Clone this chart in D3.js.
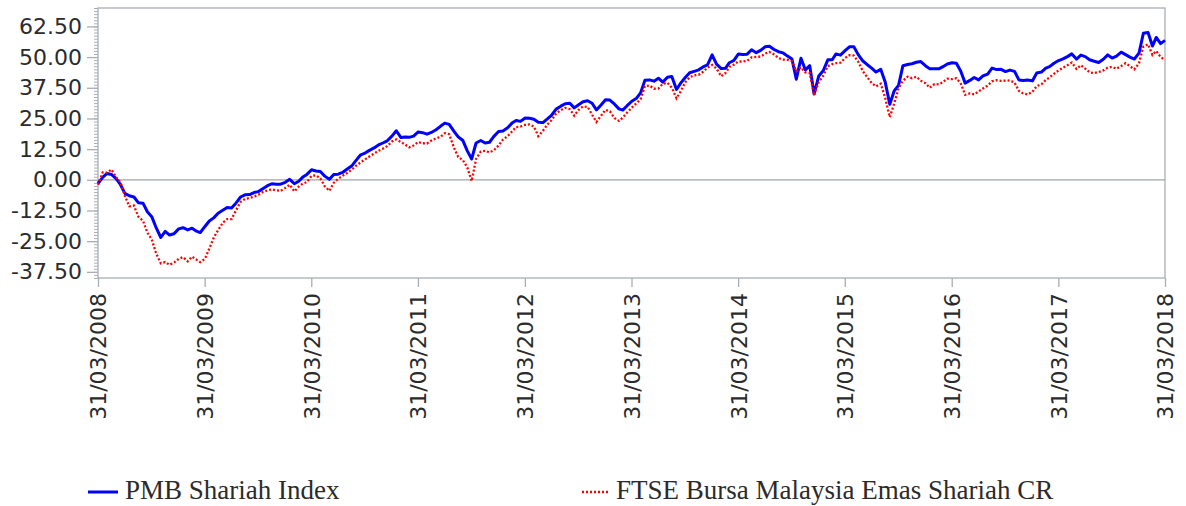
<!DOCTYPE html>
<html>
<head>
<meta charset="utf-8">
<script src="https://cdn.jsdelivr.net/npm/d3@7"></script>
<style>
  html, body { margin: 0; padding: 0; background: #ffffff; }
  svg { display: block; }
</style>
</head>
<body>
<svg id="chart" width="1186" height="506"></svg>
<script>
// ---- data (half-monthly readings) ----
const dates = [
"2008-03-31","2008-04-16","2008-05-01","2008-05-16","2008-06-01","2008-06-16","2008-07-01","2008-07-16","2008-08-01","2008-08-16","2008-09-01","2008-09-16","2008-10-01","2008-10-16","2008-11-01","2008-11-16","2008-12-01","2008-12-16",
"2009-01-01","2009-01-16","2009-02-01","2009-02-16","2009-03-01","2009-03-16","2009-04-01","2009-04-16","2009-05-01","2009-05-16","2009-06-01","2009-06-16","2009-07-01","2009-07-16","2009-08-01","2009-08-16","2009-09-01","2009-09-16","2009-10-01","2009-10-16","2009-11-01","2009-11-16","2009-12-01","2009-12-16",
"2010-01-01","2010-01-16","2010-02-01","2010-02-16","2010-03-01","2010-03-16","2010-04-01","2010-04-16","2010-05-01","2010-05-16","2010-06-01","2010-06-16","2010-07-01","2010-07-16","2010-08-01","2010-08-16","2010-09-01","2010-09-16","2010-10-01","2010-10-16","2010-11-01","2010-11-16","2010-12-01","2010-12-16",
"2011-01-01","2011-01-16","2011-02-01","2011-02-16","2011-03-01","2011-03-16","2011-04-01","2011-04-16","2011-05-01","2011-05-16","2011-06-01","2011-06-16","2011-07-01","2011-07-16","2011-08-01","2011-08-16","2011-09-01","2011-09-16","2011-10-01","2011-10-16","2011-11-01","2011-11-16","2011-12-01","2011-12-16",
"2012-01-01","2012-01-16","2012-02-01","2012-02-16","2012-03-01","2012-03-16","2012-04-01","2012-04-16","2012-05-01","2012-05-16","2012-06-01","2012-06-16","2012-07-01","2012-07-16","2012-08-01","2012-08-16","2012-09-01","2012-09-16","2012-10-01","2012-10-16","2012-11-01","2012-11-16","2012-12-01","2012-12-16",
"2013-01-01","2013-01-16","2013-02-01","2013-02-16","2013-03-01","2013-03-16","2013-04-01","2013-04-16","2013-05-01","2013-05-16","2013-06-01","2013-06-16","2013-07-01","2013-07-16","2013-08-01","2013-08-16","2013-09-01","2013-09-16","2013-10-01","2013-10-16","2013-11-01","2013-11-16","2013-12-01","2013-12-16",
"2014-01-01","2014-01-16","2014-02-01","2014-02-16","2014-03-01","2014-03-16","2014-04-01","2014-04-16","2014-05-01","2014-05-16","2014-06-01","2014-06-16","2014-07-01","2014-07-16","2014-08-01","2014-08-16","2014-09-01","2014-09-16","2014-10-01","2014-10-16","2014-11-01","2014-11-16","2014-12-01","2014-12-16",
"2015-01-01","2015-01-16","2015-02-01","2015-02-16","2015-03-01","2015-03-16","2015-04-01","2015-04-16","2015-05-01","2015-05-16","2015-06-01","2015-06-16","2015-07-01","2015-07-16","2015-08-01","2015-08-16","2015-09-01","2015-09-16","2015-10-01","2015-10-16","2015-11-01","2015-11-16","2015-12-01","2015-12-16",
"2016-01-01","2016-01-16","2016-02-01","2016-02-16","2016-03-01","2016-03-16","2016-04-01","2016-04-16","2016-05-01","2016-05-16","2016-06-01","2016-06-16","2016-07-01","2016-07-16","2016-08-01","2016-08-16","2016-09-01","2016-09-16","2016-10-01","2016-10-16","2016-11-01","2016-11-16","2016-12-01","2016-12-16",
"2017-01-01","2017-01-16","2017-02-01","2017-02-16","2017-03-01","2017-03-16","2017-04-01","2017-04-16","2017-05-01","2017-05-16","2017-06-01","2017-06-16","2017-07-01","2017-07-16","2017-08-01","2017-08-16","2017-09-01","2017-09-16","2017-10-01","2017-10-16","2017-11-01","2017-11-16","2017-12-01","2017-12-16",
"2018-01-01","2018-01-16","2018-02-01","2018-02-16","2018-03-01","2018-03-16","2018-03-31"
];

const pmbShariah = [
-1.5,1.0,2.6,2.2,0.5,-2.0,-5.5,-6.5,-7.0,-9.3,-9.5,-13.0,-15.0,-19.5,-23.5,-21.0,-22.5,-22.0,
-20.0,-19.5,-20.4,-19.7,-20.8,-21.5,-19.0,-16.8,-15.5,-13.6,-12.4,-11.3,-11.5,-9.5,-7.0,-6.1,-6.0,-5.2,-4.8,-3.6,-2.4,-1.6,-1.8,-1.8,
-1.0,0.2,-1.6,-0.6,1.0,2.2,4.1,3.6,3.4,1.5,0.2,2.2,2.3,3.0,4.4,5.6,8.0,10.2,10.9,12.0,13.0,14.2,15.0,15.9,
17.8,20.0,17.2,17.4,17.3,17.8,19.5,19.2,18.6,19.3,20.4,21.8,23.1,22.6,19.8,17.5,16.0,11.8,8.5,15.0,16.0,15.0,15.3,17.7,
19.7,19.9,21.2,23.1,24.2,23.8,25.2,25.1,24.7,23.5,23.3,24.8,26.4,28.8,30.0,31.0,31.2,29.3,30.6,31.8,32.2,31.2,28.5,30.4,
32.6,32.5,30.8,28.9,28.4,30.2,32.0,33.1,35.4,40.6,40.7,40.2,41.4,39.8,41.8,42.1,36.8,39.5,41.7,43.6,44.2,44.8,46.0,46.8,
50.9,47.1,45.3,45.5,47.7,48.6,51.3,51.1,51.2,53.0,51.8,52.7,54.2,54.4,53.1,52.2,51.7,50.4,49.2,41.0,49.5,44.8,46.5,35.0,
42.3,44.4,48.9,48.9,51.3,50.8,52.6,54.2,54.2,51.0,48.4,46.9,45.5,43.9,45.0,40.0,30.8,36.2,38.5,46.5,47.0,47.3,47.9,48.2,
46.5,45.2,45.2,45.2,46.1,47.2,47.7,47.5,44.2,39.4,40.5,41.7,40.7,42.3,43.1,45.5,44.9,45.0,44.1,44.7,44.2,40.7,40.5,40.7,
40.3,43.5,43.9,45.5,46.1,47.5,48.6,49.3,50.2,51.3,49.2,50.8,50.2,48.9,48.3,47.8,49.1,50.9,49.6,50.4,52.0,51.0,50.0,49.2,
51.6,59.7,60.0,54.5,58.0,55.5,56.8
];

const ftseEmasShariah = [
-2.0,3.0,2.9,4.2,1.0,-1.0,-6.5,-10.8,-10.5,-15.0,-16.7,-21.5,-24.3,-30.0,-34.0,-33.5,-34.6,-33.8,
-32.2,-31.5,-33.2,-31.3,-32.4,-33.5,-32.2,-28.0,-23.6,-20.5,-17.5,-16.0,-16.0,-12.5,-9.0,-7.8,-7.4,-6.8,-6.1,-5.0,-4.3,-3.9,-4.3,-4.5,
-3.3,-2.0,-4.7,-2.8,-1.6,-0.9,1.6,1.8,0.6,-2.6,-4.5,-1.2,0.4,1.6,2.8,4.1,5.8,7.1,8.3,9.5,10.7,11.8,12.7,13.7,
15.6,16.5,15.4,14.3,13.2,14.0,15.4,14.9,14.8,16.0,16.9,17.5,19.0,18.6,13.2,9.3,8.0,5.0,-0.5,8.5,11.5,11.8,11.2,12.0,
14.0,16.4,17.8,19.7,21.5,21.7,22.4,22.6,21.7,17.8,20.0,22.5,24.4,27.0,28.4,29.3,28.8,26.1,28.5,29.9,29.7,26.5,23.6,26.0,
28.5,27.9,25.1,24.0,25.3,27.4,29.4,31.1,32.8,38.2,38.4,37.1,37.2,39.1,39.5,37.5,33.2,36.2,39.7,41.8,42.6,42.8,44.0,45.7,
46.8,45.3,42.2,43.5,46.0,46.9,48.2,48.2,48.5,49.9,50.1,50.2,51.4,52.1,51.1,49.6,49.0,48.9,48.4,44.3,45.8,43.8,43.5,34.5,
39.9,42.3,46.3,47.1,47.5,47.7,49.6,50.8,50.6,48.1,44.2,41.8,39.4,38.1,39.2,33.5,25.5,31.0,37.3,40.4,42.0,41.4,42.0,40.4,
39.4,37.5,39.0,38.9,39.8,41.2,41.0,41.4,39.2,34.6,35.2,34.8,36.0,37.2,38.4,40.1,40.6,40.3,40.4,40.5,39.6,36.2,35.1,34.8,
35.8,38.2,38.9,40.7,41.7,43.2,44.6,45.7,46.7,47.8,45.2,46.7,45.3,43.8,43.5,43.9,44.6,45.7,46.0,45.3,46.4,47.5,46.3,45.0,
47.5,54.3,55.2,50.9,52.5,50.0,48.9
];

const yTicks = [-37.5, -25, -12.5, 0, 12.5, 25, 37.5, 50, 62.5];
const xTickLabels = ["31/03/2008","31/03/2009","31/03/2010","31/03/2011","31/03/2012","31/03/2013","31/03/2014","31/03/2015","31/03/2016","31/03/2017","31/03/2018"];
const seriesNames = ["PMB Shariah Index", "FTSE Bursa Malaysia Emas Shariah CR"];

// ---- chart ----
const parse = d3.timeParse("%Y-%m-%d");
const parseTick = d3.timeParse("%d/%m/%Y");
const svg = d3.select("#chart");
const m = {left: 98, right: 1165, top: 8, bottom: 278};
const axisColor = "#a9aeb4";
const textColor = "#2b2b2b";

const x = d3.scaleTime()
  .domain([parseTick(xTickLabels[0]), parseTick(xTickLabels[xTickLabels.length - 1])])
  .range([m.left, m.right]);
const y = d3.scaleLinear().domain([-40, 70]).range([m.bottom, m.top]);

const pts = (vals) => dates.map((d, i) => ({date: parse(d), v: vals[i]}));

// frame
svg.append("rect")
  .attr("x", m.left).attr("y", m.top)
  .attr("width", m.right - m.left).attr("height", m.bottom - m.top)
  .attr("fill", "none").attr("stroke", axisColor).attr("stroke-width", 1.3);

// zero line
svg.append("line")
  .attr("x1", m.left).attr("x2", m.right)
  .attr("y1", y(0)).attr("y2", y(0))
  .attr("stroke", "#9fa4a9").attr("stroke-width", 1.3);

// minor y ticks
const minorVals = d3.range(-40, 70.01, 1.25);
const yMinor = svg.append("g").attr("transform", `translate(${m.left},0)`)
  .call(d3.axisLeft(y).tickValues(minorVals).tickSize(4).tickFormat(""));
yMinor.select(".domain").remove();
yMinor.selectAll("line").attr("stroke", axisColor);

// major y ticks
const yAxis = svg.append("g").attr("transform", `translate(${m.left},0)`)
  .call(d3.axisLeft(y).tickValues(yTicks).tickSize(11).tickPadding(5)
    .tickFormat(v => v.toFixed(2)));
yAxis.select(".domain").remove();
yAxis.selectAll("line").attr("stroke", axisColor).attr("stroke-width", 1.3);
yAxis.selectAll("text")
  .attr("fill", textColor)
  .style("font-family", "'DejaVu Sans', Verdana, sans-serif")
  .style("font-size", "22px");

// x axis
const xAxis = svg.append("g").attr("transform", `translate(0,${m.bottom})`)
  .call(d3.axisBottom(x).tickValues(xTickLabels.map(parseTick)).tickSize(9)
    .tickFormat(d3.timeFormat("%d/%m/%Y")));
xAxis.select(".domain").remove();
xAxis.selectAll("line").attr("stroke", axisColor).attr("stroke-width", 1.3);
xAxis.selectAll("text")
  .attr("fill", textColor)
  .style("font-family", "'DejaVu Sans', Verdana, sans-serif")
  .style("font-size", "22px")
  .attr("text-anchor", "end")
  .attr("transform", "translate(0,15) rotate(-90)")
  .attr("x", 0).attr("y", 0).attr("dy", "0.36em");

// lines
const line = d3.line().x(d => x(d.date)).y(d => y(d.v));
svg.append("path").datum(pts(pmbShariah))
  .attr("fill", "none").attr("stroke", "#0000ff").attr("stroke-width", 3)
  .attr("stroke-linejoin", "round").attr("d", line);
svg.append("path").datum(pts(ftseEmasShariah))
  .attr("fill", "none").attr("stroke", "#ff0000").attr("stroke-width", 2.3)
  .attr("stroke-dasharray", "2,2").attr("d", line);

// legend
const leg = svg.append("g").style("font-family", "'Liberation Serif', 'Times New Roman', serif")
  .style("font-size", "27px").attr("fill", textColor);
leg.append("line").attr("x1", 88).attr("x2", 118).attr("y1", 492).attr("y2", 492)
  .attr("stroke", "#0000ff").attr("stroke-width", 3);
leg.append("text").attr("x", 125).attr("y", 499).text(seriesNames[0]);
leg.append("line").attr("x1", 582).attr("x2", 610).attr("y1", 492).attr("y2", 492)
  .attr("stroke", "#ff0000").attr("stroke-width", 2.3).attr("stroke-dasharray", "2,2");
leg.append("text").attr("x", 616).attr("y", 499).text(seriesNames[1]);
</script>
</body>
</html>
